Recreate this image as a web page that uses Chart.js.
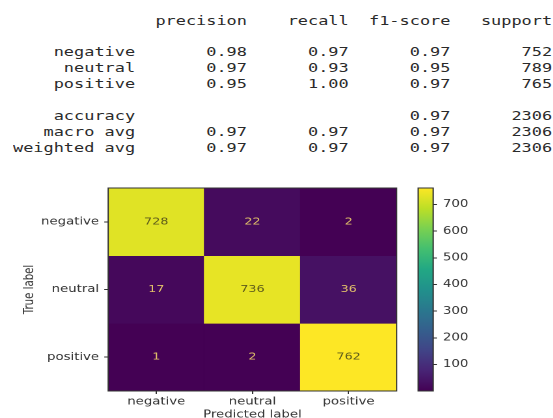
<!DOCTYPE html>
<html lang="en">
<head>
<meta charset="UTF-8">
<title>Classification report</title>
<style>
body { margin: 0; background: #fff; width: 553px; height: 418px; overflow: hidden; position: relative; }
#report { position: absolute; left: 13px; top: 13.5px; margin: 0; font: 12px 'DejaVu Sans Mono', monospace; line-height: 15.9px; color: #2a2a2a; transform: scaleX(1.408); transform-origin: 0 0; }
.box { position: absolute; top: 170px; height: 248px; transform: scaleX(1.3); transform-origin: 0 0; }
#cmBox { left: 0; width: 307.7px; }
#barBox { left: 400px; width: 117.7px; }
</style>
</head>
<body>

<pre id="report"></pre>
<div class="box" id="cmBox"><canvas id="cm"></canvas></div>
<div class="box" id="barBox"><canvas id="cbar"></canvas></div>

<script src="https://cdn.jsdelivr.net/npm/chart.js"></script>
<script>
// report numbers
const classes = ['negative', 'neutral', 'positive'];
const precision = [0.98, 0.97, 0.95];
const recall = [0.97, 0.93, 1.00];
const f1 = [0.97, 0.95, 0.97];
const support = [752, 789, 765];
const accuracy = 0.97;
const macroAvg = [0.97, 0.97, 0.97];
const weightedAvg = [0.97, 0.97, 0.97];
const total = 2306;

// confusion matrix, rows = true label, cols = predicted
const matrix = [
    [728, 22, 2],
    [17, 736, 36],
    [1, 2, 762]
];
const colorbarTicks = [100, 200, 300, 400, 500, 600, 700];

const S = 1.3; // horizontal stretch of the picture
const TXT = '#333';

// build the text report, sklearn layout
function pad(s, n) { return String(s).padStart(n); }
function row(label, cols) { return pad(label, 12) + ' ' + cols.map(c => ' ' + pad(c, 9)).join(''); }
const fmt = v => v.toFixed(2);
const lines = [
    row('', ['precision', 'recall', 'f1-score', 'support']),
    ''
];
classes.forEach((c, i) => lines.push(row(c, [fmt(precision[i]), fmt(recall[i]), fmt(f1[i]), support[i]])));
lines.push('');
lines.push(row('accuracy', ['', '', fmt(accuracy), total]));
lines.push(row('macro avg', [...macroAvg.map(fmt), total]));
lines.push(row('weighted avg', [...weightedAvg.map(fmt), total]));
document.getElementById('report').textContent = lines.join('\n');

// viridis
const VIR = ['#440154','#482475','#414487','#355f8d','#2a788e','#21918c','#22a884','#44bf70','#7ad151','#bddf26','#fde725'];
function hex2rgb(h) { return [1, 3, 5].map(i => parseInt(h.substr(i, 2), 16)); }
function viridis(t) {
    t = Math.max(0, Math.min(1, t));
    const p = t * 10, i = Math.min(9, Math.floor(p)), f = p - i;
    const a = hex2rgb(VIR[i]), b = hex2rgb(VIR[i + 1]);
    const c = a.map((v, k) => Math.round(v + (b[k] - v) * f));
    return 'rgb(' + c.join(',') + ')';
}

const flat = matrix.flat();
const vmin = Math.min(...flat), vmax = Math.max(...flat);
const thresh = (vmin + vmax) / 2;

const axisFont = { family: 'DejaVu Sans', size: 10.2 };

// frame + cell numbers
const frame = {
    id: 'frame',
    afterDraw(chart) {
        const { ctx, chartArea: a } = chart;
        ctx.save();
        ctx.strokeStyle = '#333';
        ctx.lineWidth = 1;
        ctx.strokeRect(a.left, a.top, a.right - a.left, a.bottom - a.top);
        ctx.restore();
    }
};
const cellText = {
    id: 'cellText',
    afterDatasetsDraw(chart) {
        const ctx = chart.ctx;
        ctx.save();
        ctx.font = '9.8px "DejaVu Sans"';
        ctx.textAlign = 'center';
        ctx.textBaseline = 'middle';
        matrix.forEach((r, ri) => {
            chart.getDatasetMeta(ri).data.forEach((bar, ci) => {
                const v = r[ci];
                ctx.fillStyle = v > thresh ? '#5e5c1c' : '#e4c46a';
                ctx.fillText(String(v), bar.x, (bar.y + bar.base) / 2);
            });
        });
        ctx.restore();
    }
};

new Chart(document.getElementById('cm'), {
    type: 'bar',
    data: {
        labels: classes,
        datasets: matrix.map((r, ri) => ({
            data: r.map(() => [ri - 0.5, ri + 0.5]),
            backgroundColor: r.map(v => viridis((v - vmin) / (vmax - vmin))),
            borderWidth: 0,
            grouped: false,
            barPercentage: 1,
            categoryPercentage: 1
        }))
    },
    options: {
        responsive: true,
        maintainAspectRatio: false,
        animation: false,
        devicePixelRatio: 2,
        layout: { padding: { top: 18, right: 307.7 - 396 / S, left: 0, bottom: 0 } },
        plugins: { legend: { display: false }, tooltip: { enabled: false } },
        scales: {
            x: {
                grid: { offset: false, drawOnChartArea: false, tickLength: 3, color: '#333' },
                border: { display: false },
                ticks: { color: TXT, font: axisFont, padding: 1.5, maxRotation: 0 },
                title: { display: true, text: 'Predicted label', color: TXT, font: axisFont, padding: { top: 0, bottom: -3 } },
                afterFit(s) { s.height = 27; }
            },
            y: {
                type: 'linear',
                min: -0.5,
                max: 2.5,
                reverse: true,
                afterBuildTicks(s) { s.ticks = classes.map((c, i) => ({ value: i })); },
                grid: { drawOnChartArea: false, tickLength: 3, color: '#333' },
                border: { display: false },
                ticks: { color: TXT, font: axisFont, padding: 4, callback: v => classes[v] },
                title: { display: true, text: 'True label', color: TXT, font: axisFont, padding: { top: 30 / S - 6.2, bottom: 0 } },
                afterFit(s) { s.width = 108 / S; }
            }
        }
    },
    plugins: [cellText, frame]
});

// colorbar
new Chart(document.getElementById('cbar'), {
    type: 'bar',
    data: {
        labels: [''],
        datasets: [{
            data: [[vmin, vmax]],
            backgroundColor(c) {
                const a = c.chart.chartArea;
                if (!a) return VIR[0];
                const g = c.chart.ctx.createLinearGradient(0, a.bottom, 0, a.top);
                for (let k = 0; k <= 20; k++) g.addColorStop(k / 20, viridis(k / 20));
                return g;
            },
            borderWidth: 0,
            barPercentage: 1,
            categoryPercentage: 1
        }]
    },
    options: {
        responsive: true,
        maintainAspectRatio: false,
        animation: false,
        devicePixelRatio: 2,
        layout: { padding: { top: 18, bottom: 27, left: 18 / S, right: 117.7 - 33 / S - 30 } },
        plugins: { legend: { display: false }, tooltip: { enabled: false } },
        scales: {
            x: { display: false },
            y: {
                position: 'right',
                min: vmin,
                max: vmax,
                afterBuildTicks(s) { s.ticks = colorbarTicks.map(v => ({ value: v })); },
                grid: { drawOnChartArea: false, tickLength: 3, color: '#333' },
                border: { display: false },
                ticks: { color: TXT, font: axisFont, padding: 4.5 },
                afterFit(s) { s.width = 30; }
            }
        }
    },
    plugins: [frame]
});
</script>

</body>
</html>
